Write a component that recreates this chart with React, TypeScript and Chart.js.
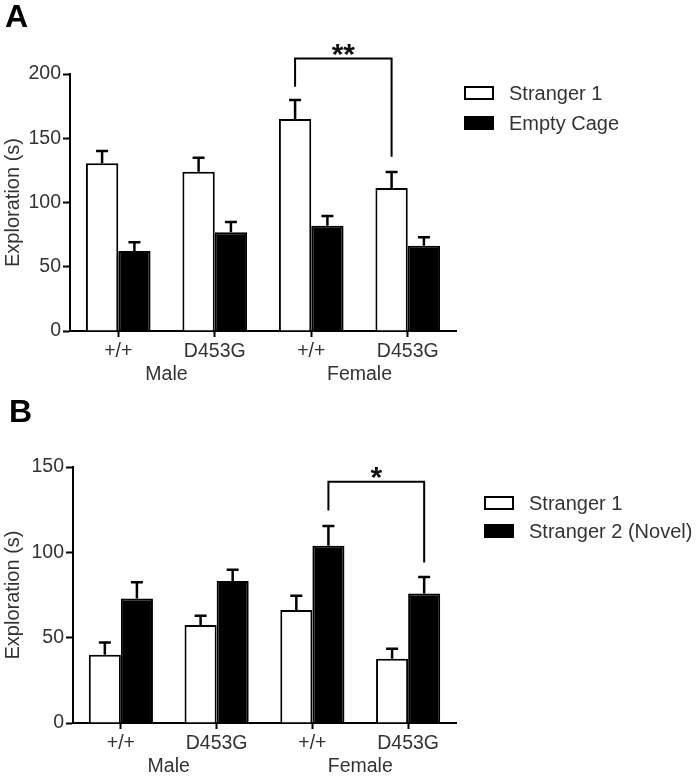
import { useEffect, useRef } from 'react';
import { Chart, registerables } from 'chart.js';
Chart.register(...registerables);

const categories = ['+/+', 'D453G', '+/+', 'D453G'];
const groupLabels = ['Male', 'Female'];

const aSeriesNames = ['Stranger 1', 'Empty Cage'];
const aStranger1 = [130.5, 124, 165, 111.3];
const aStranger1Sem = [9.5, 10.9, 14.8, 12.4];
const aEmptyCage = [62.3, 76.8, 82, 66.4];
const aEmptyCageSem = [6.7, 8.0, 7.5, 6.5];
const aBracketLevels = [212, 190, 135.6];
const aBracketStars = '**';

const bSeriesNames = ['Stranger 1', 'Stranger 2 (Novel)'];
const bStranger1 = [40, 57.4, 66.2, 37.7];
const bStranger1Sem = [7.2, 5.5, 8.4, 5.8];
const bStranger2 = [73, 83.2, 103.9, 75.9];
const bStranger2Sem = [9.4, 6.6, 11.5, 9.6];
const bBracketLevels = [141.4, 124.5, 94];
const bBracketStars = '*';

const FONT = '"Liberation Sans", Arial, Helvetica, sans-serif';
const TEXT = '#333333';

type Panel = {
  letter: string;
  letterX: number;
  letterBase: number;
  names: string[];
  values: number[][];
  sems: number[][];
  yMax: number;
  bracket: number[];
  bracketDataset: number;
  stars: string;
  height: number;
  areaTop: number;
  areaBottom: number;
  areaLeft: number;
  legendX: number;
  legendY: number;
  legendGap: number;
};

function makePlugin(p: Panel) {
  return {
    id: 'extras' + p.letter,
    afterDatasetsDraw(chart: any) {
      const ctx = chart.ctx;
      const y = chart.scales.y;
      const x = chart.scales.x;
      ctx.save();
      // error bars
      ctx.strokeStyle = '#000';
      ctx.lineWidth = 2.5;
      p.values.forEach((vals, di) => {
        const meta = chart.getDatasetMeta(di);
        vals.forEach((v, j) => {
          const el = meta.data[j];
          const top = y.getPixelForValue(v + p.sems[di][j]);
          const base = y.getPixelForValue(v);
          ctx.beginPath();
          ctx.moveTo(el.x, base);
          ctx.lineTo(el.x, top);
          ctx.moveTo(el.x - 6, top);
          ctx.lineTo(el.x + 6, top);
          ctx.stroke();
        });
      });
      // bracket
      const m = chart.getDatasetMeta(p.bracketDataset);
      const x1 = m.data[2].x;
      const x2 = m.data[3].x;
      const yt = y.getPixelForValue(p.bracket[0]);
      ctx.lineWidth = 2;
      ctx.beginPath();
      ctx.moveTo(x1, y.getPixelForValue(p.bracket[1]));
      ctx.lineTo(x1, yt);
      ctx.lineTo(x2, yt);
      ctx.lineTo(x2, y.getPixelForValue(p.bracket[2]));
      ctx.stroke();
      ctx.fillStyle = '#111';
      ctx.font = 'bold 30px ' + FONT;
      ctx.textAlign = 'center';
      ctx.textBaseline = 'alphabetic';
      const mt = ctx.measureText(p.stars);
      ctx.fillText(p.stars, (x1 + x2) / 2, yt - 3 - mt.actualBoundingBoxDescent);
      // group labels
      ctx.fillStyle = TEXT;
      ctx.font = '19.5px ' + FONT;
      ctx.textBaseline = 'middle';
      groupLabels.forEach((g, gi) => {
        const gx = (x.getPixelForValue(gi * 2) + x.getPixelForValue(gi * 2 + 1)) / 2;
        ctx.fillText(g, gx, chart.chartArea.bottom + 44);
      });
      // panel letter
      ctx.fillStyle = '#000';
      ctx.font = 'bold 32px ' + FONT;
      ctx.textAlign = 'left';
      ctx.textBaseline = 'alphabetic';
      ctx.fillText(p.letter, p.letterX, p.letterBase);
      // legend
      ctx.font = '20px ' + FONT;
      ctx.textBaseline = 'middle';
      p.names.forEach((n, i) => {
        const cy = p.legendY + i * p.legendGap;
        ctx.fillStyle = i === 0 ? '#fff' : '#000';
        ctx.fillRect(p.legendX, cy - 6, 28, 12);
        ctx.strokeStyle = '#000';
        ctx.lineWidth = 2;
        ctx.strokeRect(p.legendX, cy - 6, 28, 12);
        ctx.fillStyle = TEXT;
        ctx.fillText(n, p.legendX + 44, cy + 1);
      });
      ctx.restore();
    },
  };
}

function PanelChart({ p, top }: { p: Panel; top: number }) {
  const ref = useRef<HTMLCanvasElement>(null);
  useEffect(() => {
    const chart = new Chart(ref.current as HTMLCanvasElement, {
      type: 'bar',
      data: {
        labels: categories,
        datasets: p.values.map((vals, i) => ({
          label: p.names[i],
          data: vals,
          backgroundColor: i === 0 ? '#ffffff' : '#000000',
          borderColor: '#000000',
          borderWidth: 2,
          categoryPercentage: 0.67,
          barPercentage: 1.0,
        })),
      },
      options: {
        responsive: false,
        animation: false,
        devicePixelRatio: 1,
        layout: { padding: { top: p.areaTop, right: 700 - 456, left: 0, bottom: 0 } },
        plugins: { legend: { display: false }, tooltip: { enabled: false } },
        scales: {
          x: {
            grid: { drawOnChartArea: false, offset: false, tickLength: 6, tickWidth: 2, tickColor: '#000' },
            border: { color: '#000', width: 2 },
            ticks: { color: TEXT, font: { family: FONT, size: 19.5 }, padding: 3, maxRotation: 0 },
            afterFit: (s: any) => { s.height = p.height - p.areaBottom; },
          },
          y: {
            min: 0,
            max: p.yMax,
            grid: { drawOnChartArea: false, tickLength: 7, tickWidth: 2, tickColor: '#000' },
            border: { color: '#000', width: 2 },
            ticks: { stepSize: 50, color: TEXT, font: { family: FONT, size: 19.5 }, padding: 2 },
            title: { display: true, text: 'Exploration (s)', color: TEXT, font: { family: FONT, size: 20 }, padding: { top: 1, bottom: 0 } },
            afterFit: (s: any) => { s.width = p.areaLeft; },
          },
        },
      },
      plugins: [makePlugin(p)],
    } as any);
    return () => chart.destroy();
  }, []);
  return (
    <canvas
      ref={ref}
      width={700}
      height={p.height}
      style={{ position: 'absolute', left: 0, top, width: 700, height: p.height }}
    />
  );
}

const panelA: Panel = {
  letter: 'A', letterX: 5, letterBase: 27,
  names: aSeriesNames,
  values: [aStranger1, aEmptyCage],
  sems: [aStranger1Sem, aEmptyCageSem],
  yMax: 200,
  bracket: aBracketLevels, bracketDataset: 0, stars: aBracketStars,
  height: 390, areaTop: 74, areaBottom: 331, areaLeft: 70,
  legendX: 465, legendY: 93, legendGap: 30,
};

const panelB: Panel = {
  letter: 'B', letterX: 9, letterBase: 32,
  names: bSeriesNames,
  values: [bStranger1, bStranger2],
  sems: [bStranger1Sem, bStranger2Sem],
  yMax: 150,
  bracket: bBracketLevels, bracketDataset: 1, stars: bBracketStars,
  height: 389, areaTop: 77, areaBottom: 333, areaLeft: 73,
  legendX: 485, legendY: 113, legendGap: 28,
};

export default function App() {
  return (
    <div style={{ position: 'absolute', left: 0, top: 0, width: 700, height: 779, background: '#fff' }}>
      <PanelChart p={panelA} top={0} />
      <PanelChart p={panelB} top={390} />
    </div>
  );
}
